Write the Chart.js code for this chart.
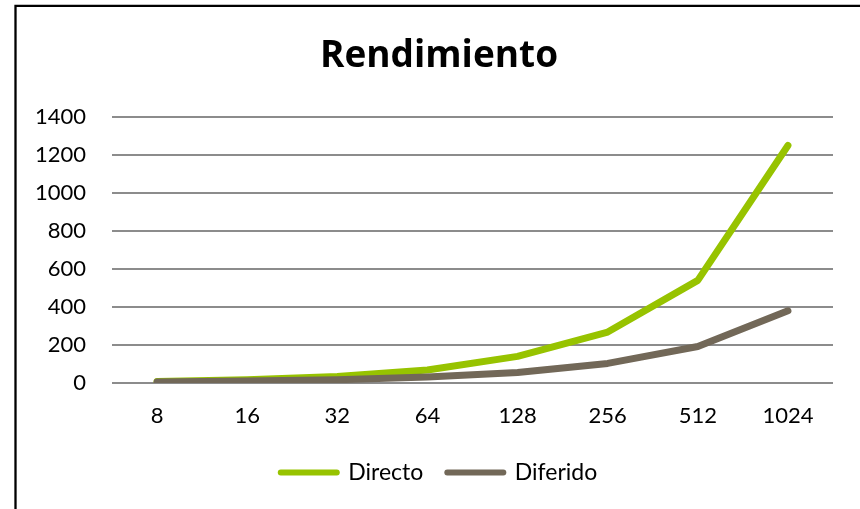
<!DOCTYPE html>
<html>
<head>
<meta charset="utf-8">
<script src="https://cdn.jsdelivr.net/npm/chart.js@4.4.1/dist/chart.umd.min.js"></script>
<style>
  html, body { margin: 0; padding: 0; background: #fff; }
  #wrap { position: relative; width: 860px; height: 509px; }
</style>
</head>
<body>
<div id="wrap"><canvas id="myChart" width="860" height="509"></canvas></div>
<script>
const categorias = ['8', '16', '32', '64', '128', '256', '512', '1024'];
const directo = [8, 17, 34, 68, 140, 268, 540, 1250];
const diferido = [5, 10, 17, 32, 55, 103, 192, 380];
const yTicks = [0, 200, 400, 600, 800, 1000, 1200, 1400];

const verde = '#97c300';
const gris = '#726858';
const fuente = 'Lato, Calibri, "Open Sans", sans-serif';

// marco negro del grafico (solo lados izquierdo y superior quedan dentro)
const marco = {
    id: 'marco',
    afterDraw(chart) {
        const c = chart.ctx;
        c.save();
        c.strokeStyle = '#000';
        c.lineWidth = 2.3;
        c.beginPath();
        c.moveTo(15.5, 520);
        c.lineTo(15.5, 5.8);
        c.lineTo(870, 5.8);
        c.stroke();
        c.restore();
    }
};

const ctx = document.getElementById('myChart').getContext('2d');
const myChart = new Chart(ctx, {
    type: 'line',
    data: {
        labels: categorias,
        datasets: [{
            label: 'Directo',
            data: directo,
            borderColor: verde,
            backgroundColor: verde,
            order: 2
        }, {
            label: 'Diferido',
            data: diferido,
            borderColor: gris,
            backgroundColor: gris,
            order: 1
        }]
    },
    options: {
        responsive: false,
        animation: false,
        devicePixelRatio: 1,
        layout: {
            padding: { left: 18, right: 0, top: 0, bottom: 15 }
        },
        elements: {
            line: {
                borderWidth: 7,
                tension: 0,
                borderCapStyle: 'round',
                borderJoinStyle: 'round'
            },
            point: { radius: 0, hoverRadius: 0 }
        },
        scales: {
            x: {
                offset: true,
                grid: { display: false },
                border: { display: false },
                ticks: {
                    color: '#000',
                    padding: 12,
                    font: { family: fuente, size: 22 },
                    maxRotation: 0
                },
                afterFit: (scale) => { scale.height = 54; }
            },
            y: {
                min: 0,
                max: 1400,
                afterBuildTicks: (scale) => { scale.ticks = yTicks.map(v => ({ value: v })); },
                grid: {
                    color: '#8c8c8c',
                    lineWidth: 2,
                    drawTicks: false
                },
                border: { display: false },
                ticks: {
                    color: '#000',
                    padding: 26,
                    font: { family: fuente, size: 22 },
                    callback: (v) => String(v)
                },
                afterFit: (scale) => { scale.width = 94; }
            },
            // eje vacio a la derecha, solo reserva el margen
            margen: {
                type: 'linear',
                position: 'right',
                grid: { display: false },
                border: { display: false },
                ticks: { display: false },
                afterFit: (scale) => { scale.width = 27; }
            }
        },
        plugins: {
            title: {
                display: true,
                text: 'Rendimiento',
                color: '#000',
                font: { family: '"Open Sans", Lato, sans-serif', size: 37, weight: 'bold' },
                padding: { top: 34, bottom: 38.6 }
            },
            legend: {
                position: 'bottom',
                labels: {
                    color: '#000',
                    font: { family: fuente, size: 23 },
                    usePointStyle: true,
                    pointStyleWidth: 56,
                    padding: 24,
                    generateLabels: (chart) => chart.data.datasets.map((ds, i) => ({
                        text: ds.label,
                        datasetIndex: i,
                        pointStyle: 'line',
                        strokeStyle: ds.borderColor,
                        fillStyle: ds.borderColor,
                        lineWidth: 6,
                        lineCap: 'round',
                        fontColor: '#000'
                    }))
                }
            },
            tooltip: { enabled: false }
        }
    },
    plugins: [marco]
});
</script>
</body>
</html>
